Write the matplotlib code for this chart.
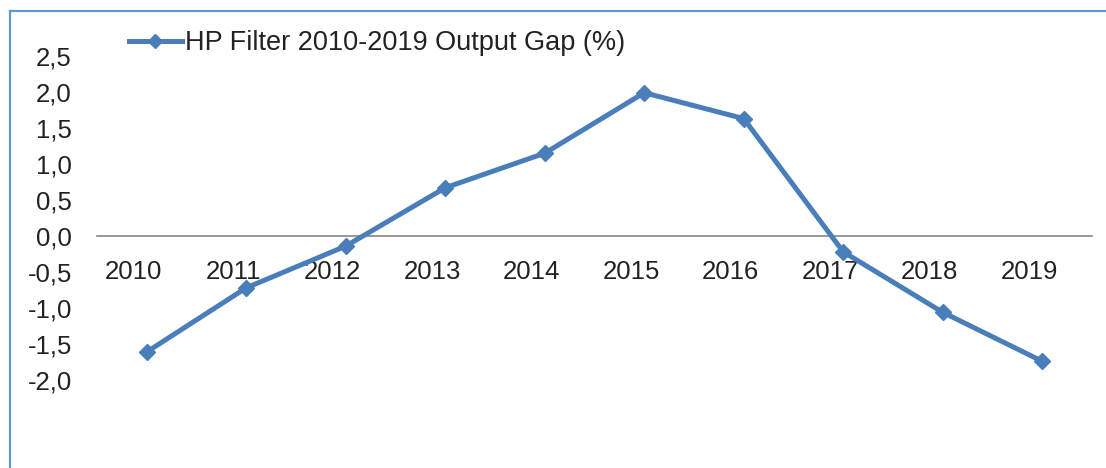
import matplotlib
matplotlib.use("Agg")
import matplotlib.pyplot as plt
from matplotlib.ticker import FuncFormatter, MultipleLocator
from matplotlib.lines import Line2D
from matplotlib.transforms import ScaledTranslation

years = ["2010", "2011", "2012", "2013", "2014", "2015", "2016", "2017", "2018", "2019"]
output_gap = [-1.61, -0.72, -0.14, 0.67, 1.15, 1.99, 1.63, -0.22, -1.06, -1.74]
series_name = "HP Filter 2010-2019 Output Gap (%)"

plt.rcParams['font.family'] = ['Liberation Sans', 'DejaVu Sans']
line_color = '#4a7ebb'
text_color = '#222222'
fs = 18.5

fig = plt.figure(figsize=(11.06, 4.68), dpi=100)
ax = fig.add_axes([97 / 1106, 1 - 380 / 468, (1092 - 97) / 1106, (380 - 56) / 468])

x = [i + 0.5 for i in range(len(years))]
ax.plot(x, output_gap, color=line_color, lw=3.6, marker='D', markersize=8,
        label=series_name, clip_on=False, zorder=3)

ax.set_xlim(0, len(years))
ax.set_ylim(-2.0, 2.5)
ax.yaxis.set_major_locator(MultipleLocator(0.5))
ax.yaxis.set_major_formatter(FuncFormatter(lambda v, p: f"{v:.1f}".replace('.', ',')))
ax.set_xticks(x)
ax.set_xticklabels(years)

for s in ['top', 'right', 'left']:
    ax.spines[s].set_visible(False)
ax.spines['bottom'].set_position(('data', 0))
ax.spines['bottom'].set_color('#868686')
ax.spines['bottom'].set_linewidth(1.2)

ax.tick_params(axis='y', length=0, pad=18, labelsize=fs, labelcolor=text_color)
ax.tick_params(axis='x', length=0, pad=17, labelsize=fs, labelcolor=text_color)

# category labels sit a little left of the category centre
shift = ScaledTranslation(-13 / 100, 0, fig.dpi_scale_trans)
for lbl in ax.get_xticklabels():
    lbl.set_transform(lbl.get_transform() + shift)

ax.legend(loc='upper left', bbox_to_anchor=(129 / 1106, 1 - 30 / 468),
          bbox_transform=fig.transFigure, frameon=False, fontsize=19.5,
          handlelength=1.95, handletextpad=0.11, borderpad=0, borderaxespad=0,
          labelcolor=text_color, markerscale=0.9)

# outer chart frame (left and top edges visible)
frame_color = '#5b9bd5'
fig.add_artist(Line2D([10 / 1106, 10 / 1106], [0, 1 - 11 / 468], color=frame_color, lw=1.6,
                      transform=fig.transFigure))
fig.add_artist(Line2D([10 / 1106, 1], [1 - 11 / 468, 1 - 11 / 468], color=frame_color, lw=1.6,
                      transform=fig.transFigure))

fig.savefig("out.png", dpi=100)
